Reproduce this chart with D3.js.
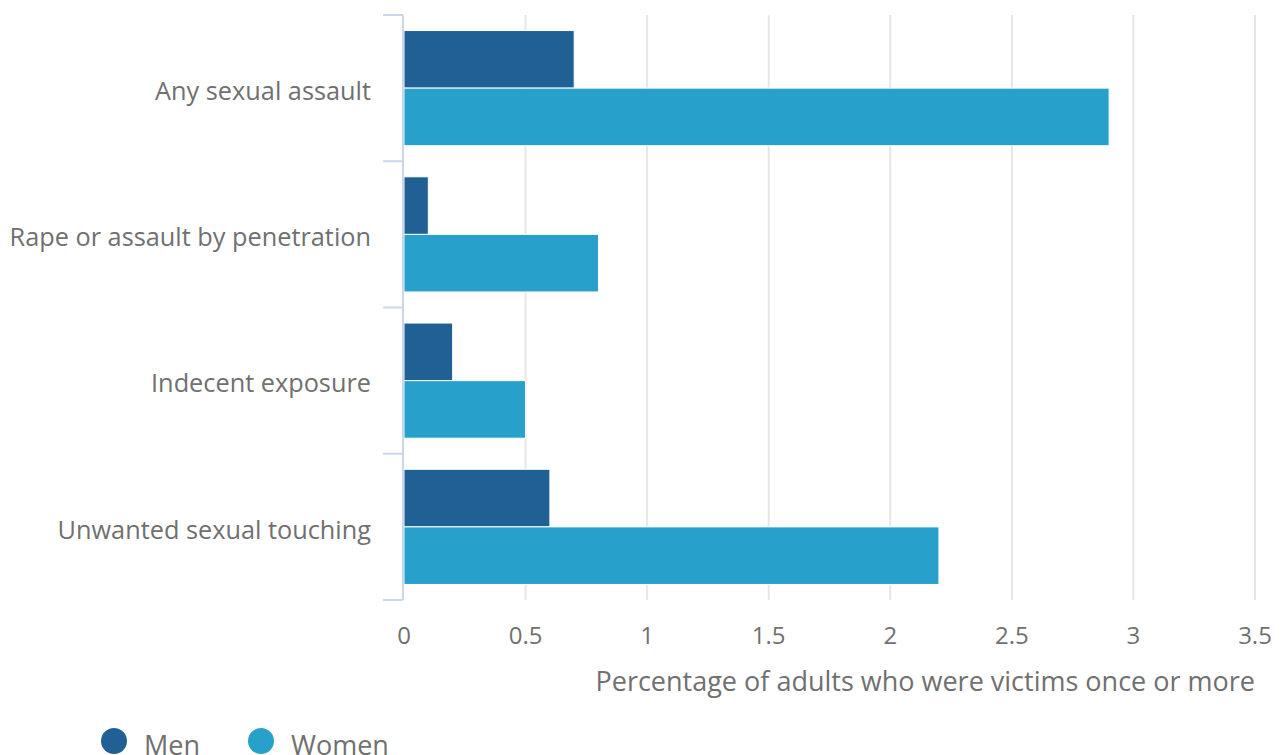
<!DOCTYPE html>
<html>
<head>
<meta charset="utf-8">
<script src="https://cdnjs.cloudflare.com/ajax/libs/d3/7.8.5/d3.min.js"></script>
<style>
  body { margin: 0; background: #fff; }
  svg text { font-family: "Open Sans", sans-serif; fill: #707070; }
</style>
</head>
<body>
<svg id="chart" width="1282" height="755"></svg>
<script>
var categories = ["Any sexual assault", "Rape or assault by penetration", "Indecent exposure", "Unwanted sexual touching"];
var seriesNames = ["Men", "Women"];
var men = [0.7, 0.1, 0.2, 0.6];
var women = [2.9, 0.8, 0.5, 2.2];
var xTicks = [0, 0.5, 1, 1.5, 2, 2.5, 3, 3.5];
var colors = ["#206095", "#27a0cc"];

var svg = d3.select("#chart");
//plot area
var pLeft = 404, pRight = 1255, pTop = 15, pBottom = 600;

var x = d3.scaleLinear().domain([0, 3.5]).range([pLeft, pRight]);
var y = d3.scaleBand().domain(categories).range([pTop, pBottom]);
var inner = d3.scaleBand().domain(seriesNames).range([0, y.bandwidth()]).paddingOuter(0.27);

//gridlines
svg.append("g")
  .selectAll("line")
  .data(xTicks.slice(1))
  .join("line")
    .attr("x1", d => x(d)).attr("x2", d => x(d))
    .attr("y1", pTop).attr("y2", pBottom)
    .attr("stroke", "#e6e6e6")
    .attr("stroke-width", 2);

//bars
var rows = categories.map((c, i) => ({ cat: c, vals: [men[i], women[i]] }));
var groups = svg.append("g")
  .selectAll("g")
  .data(rows)
  .join("g")
    .attr("transform", d => "translate(0," + y(d.cat) + ")");
groups.selectAll("rect")
  .data(d => d.vals.map((v, j) => ({ name: seriesNames[j], v: v, c: colors[j] })))
  .join("rect")
    .attr("x", x(0))
    .attr("y", d => inner(d.name))
    .attr("width", d => x(d.v) - x(0))
    .attr("height", inner.bandwidth())
    .attr("fill", d => d.c)
    .attr("stroke", "#fff")
    .attr("stroke-width", 1);

//category axis
var yAxis = svg.append("g");
yAxis.append("line")
  .attr("x1", pLeft - 1).attr("x2", pLeft - 1)
  .attr("y1", pTop).attr("y2", pBottom)
  .attr("stroke", "#ccd6eb").attr("stroke-width", 2);
var tickYs = categories.map(c => y(c)).concat([pBottom]);
yAxis.selectAll(".tk")
  .data(tickYs)
  .join("line")
    .attr("class", "tk")
    .attr("x1", pLeft - 21).attr("x2", pLeft - 1)
    .attr("y1", d => d).attr("y2", d => d)
    .attr("stroke", "#ccd6eb").attr("stroke-width", 2);
yAxis.selectAll("text")
  .data(categories)
  .join("text")
    .attr("x", pLeft - 33)
    .attr("y", d => y(d) + y.bandwidth() / 2 + 3)
    .attr("dy", "0.35em")
    .attr("text-anchor", "end")
    .attr("font-size", 25.3)
    .text(d => d);

//value axis labels
svg.append("g")
  .selectAll("text")
  .data(xTicks)
  .join("text")
    .attr("x", d => x(d))
    .attr("y", 644)
    .attr("text-anchor", "middle")
    .attr("font-size", 24)
    .text(d => d);

svg.append("text")
  .attr("x", pRight)
  .attr("y", 691)
  .attr("text-anchor", "end")
  .attr("font-size", 27)
  .text("Percentage of adults who were victims once or more");

//legend
var legend = svg.append("g")
  .selectAll("g")
  .data(seriesNames)
  .join("g")
    .attr("transform", (d, i) => "translate(" + (114 + i * 147) + ",741)");
legend.append("circle")
  .attr("r", 13)
  .attr("fill", (d, i) => colors[i]);
legend.append("text")
  .attr("x", 30)
  .attr("y", 14)
  .attr("font-size", 27)
  .text(d => d);
</script>
</body>
</html>
